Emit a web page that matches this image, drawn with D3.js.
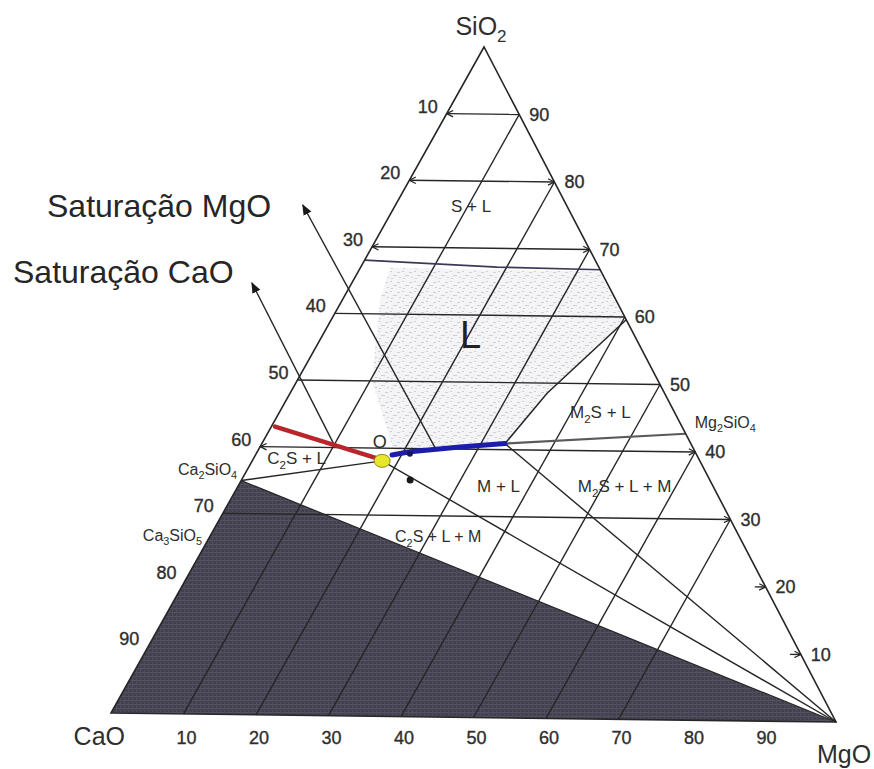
<!DOCTYPE html>
<html>
<head>
<meta charset="utf-8">
<script src="https://cdn.jsdelivr.net/npm/d3@7"></script>
<style>
  html, body { margin: 0; padding: 0; background: #fff; }
  svg { display: block; font-family: "Liberation Sans", Arial, Helvetica, sans-serif; }
</style>
</head>
<body>
<svg id="chart" width="874" height="769"></svg>
<script>
// ---- Data: every composition is wt% written as [CaO, MgO, SiO2] ----
const tickValues   = [10, 20, 30, 40, 50, 60, 70, 80, 90];
const silicaGrid   = [90, 80, 70, 60, 50, 40, 30];   // iso-SiO2 lines across the field
const magnesiaGrid = [10, 20, 30, 40, 50, 60, 70];   // iso-MgO lines across the field
const silicaArrowLeft  = [90, 80, 70, 40];
const silicaArrowRight = [80, 70, 40, 30];
const silicaTickOnly   = [20, 10];

const cornerCaO  = [100, 0, 0];
const cornerMgO  = [0, 100, 0];
const cornerSiO2 = [0, 0, 100];

const ca2sio4 = [65.1, 0, 34.9];
const ca3sio5 = [73.7, 0, 26.3];
const mg2sio4 = [0, 57.3, 42.7];
const pointO  = [44.1, 17.8, 38.1];
const slagDot = [41.6, 23.1, 35.3];
const mgoEnd  = [25.8, 33.3, 40.9];   // L / M2S+L / M+L junction

const silicaLiquidus  = [[32.0, 0, 68.0], [14.1, 18.7, 67.2], [0, 33.0, 67.0]];
const olivineLiquidus = [[25.8, 33.3, 40.9], [16.3, 35.2, 48.5], [0, 40.4, 59.6]];
const caoSaturation   = [[56.5, 0.5, 43.0], [44.7, 16.8, 38.5]];
const mgoSaturation   = [[42.3, 18.7, 39.0], [39.6, 20.9, 39.5], [32.3, 27.4, 40.3], [25.8, 33.3, 40.9]];
const satMgOArrow     = [[35.8, 24.3, 39.9], [36.6, -12.7, 76.1]];
const satCaOArrow     = [[49.6, 9.9, 40.5], [49.3, -13.7, 64.4]];
const liquidField     = [[29.0, 4.1, 66.9], [0.2, 33.1, 66.7], [0.3, 40.4, 59.3], [16.3, 35.2, 48.5],
                         [25.8, 33.3, 40.9], [41.9, 19.1, 39.0], [39.7, 10.2, 50.1], [32.8, 5.2, 62.1]];

// ---- Layout ----
const corner = { CaO: [111, 713], MgO: [836, 722], SiO2: [484, 47] };
const frac = d3.scaleLinear().domain([0, 100]).range([0, 1]);

function proj(d) {
  const t = d[0] + d[1] + d[2];
  const c = frac(d[0] * 100 / t), m = frac(d[1] * 100 / t), s = frac(d[2] * 100 / t);
  return [c * corner.CaO[0] + m * corner.MgO[0] + s * corner.SiO2[0],
          c * corner.CaO[1] + m * corner.MgO[1] + s * corner.SiO2[1]];
}
const line = d3.line().x(d => proj(d)[0]).y(d => proj(d)[1]);
const ink = "#262626";

const svg = d3.select("#chart");
const defs = svg.append("defs");
defs.append("marker").attr("id", "chev").attr("viewBox", "0 0 10 10")
  .attr("refX", 9).attr("refY", 5).attr("markerWidth", 8).attr("markerHeight", 8)
  .attr("markerUnits", "userSpaceOnUse").attr("orient", "auto-start-reverse")
  .append("path").attr("d", "M1,1 L9,5 L1,9").attr("fill", "none")
  .attr("stroke", ink).attr("stroke-width", 1.5);
defs.append("marker").attr("id", "tri").attr("viewBox", "0 0 10 10")
  .attr("refX", 9).attr("refY", 5).attr("markerWidth", 11).attr("markerHeight", 11)
  .attr("markerUnits", "userSpaceOnUse").attr("orient", "auto")
  .append("path").attr("d", "M0,1 L10,5 L0,9 Z").attr("fill", "#1a1a1a");

// speckled tone for the liquid field
const speck = defs.append("pattern").attr("id", "speck").attr("patternUnits", "userSpaceOnUse")
  .attr("width", 12).attr("height", 10);
speck.append("rect").attr("width", 12).attr("height", 10).attr("fill", "#f4f4f6");
[[1, 2, 3], [6, 1, 2], [9, 5, 3], [3, 7, 2], [7, 8, 2], [0, 5, 1]].forEach(([x, y, w]) =>
  speck.append("rect").attr("x", x).attr("y", y).attr("width", w).attr("height", 1).attr("fill", "#cfcfd8"));

// dark C2S + C3S + M field with a fine screen texture
const screen = defs.append("pattern").attr("id", "screen").attr("patternUnits", "userSpaceOnUse")
  .attr("width", 4).attr("height", 4);
screen.append("rect").attr("width", 4).attr("height", 4).attr("fill", "#43414f");
screen.append("rect").attr("width", 4).attr("height", 1).attr("fill", "#555363");
screen.append("rect").attr("width", 1).attr("height", 4).attr("fill", "#4f4d5c");

svg.append("path").attr("d", line([ca2sio4, cornerMgO, cornerCaO]) + "Z")
  .attr("fill", "url(#screen)").attr("stroke", "none");

svg.append("path").attr("d", line(liquidField) + "Z")
  .attr("fill", "url(#speck)").attr("stroke", "none");

const g = svg.append("g").attr("fill", "none").attr("stroke", ink).attr("stroke-width", 1.4);

// iso-SiO2 lines
silicaGrid.forEach(v => {
  const rest = 100 - v;
  g.append("path").attr("d", line([[rest, 0, v], [0, rest, v]]))
    .attr("marker-start", silicaArrowLeft.includes(v) ? "url(#chev)" : null)
    .attr("marker-end", silicaArrowRight.includes(v) ? "url(#chev)" : null);
});
// short tick arrows on the MgO–SiO2 side
silicaTickOnly.forEach(v => {
  const rest = 100 - v;
  g.append("path").attr("d", line([[1.5, rest - 1.5, v], [0, rest, v]]))
    .attr("marker-end", "url(#chev)");
});
// iso-MgO lines
magnesiaGrid.forEach(v => {
  g.append("path").attr("d", line([[100 - v, v, 0], [0, v, 100 - v]]));
});

// phase boundaries and tie lines
g.append("path").attr("d", line(silicaLiquidus)).attr("stroke-width", 1.7).attr("stroke", "#3a3a58");
g.append("path").attr("d", line(olivineLiquidus)).attr("stroke-width", 1.5);
g.append("path").attr("d", line([mgoEnd, mg2sio4])).attr("stroke-width", 2.2).attr("stroke", "#5a5a5a");
g.append("path").attr("d", line([mgoEnd, cornerMgO]));
g.append("path").attr("d", line([pointO, cornerMgO]));
g.append("path").attr("d", line([ca2sio4, pointO]));
g.append("path").attr("d", line([ca2sio4, cornerMgO])).attr("stroke-width", 1.2);

// saturation direction arrows
g.append("path").attr("d", line(satMgOArrow)).attr("marker-end", "url(#tri)");
g.append("path").attr("d", line(satCaOArrow)).attr("marker-end", "url(#tri)");

// triangle outline
g.append("path").attr("d", line([cornerCaO, cornerMgO, cornerSiO2]) + "Z").attr("stroke-width", 1.6);

// saturation curves
svg.append("path").attr("d", line(caoSaturation)).attr("fill", "none")
  .attr("stroke", "#b8262b").attr("stroke-width", 4.5).attr("stroke-linecap", "round");
svg.append("path").attr("d", line(mgoSaturation)).attr("fill", "none")
  .attr("stroke", "#1d1ea8").attr("stroke-width", 5).attr("stroke-linecap", "round");

// point O and slag sample
const pO = proj(pointO);
svg.append("ellipse").attr("cx", pO[0]).attr("cy", pO[1]).attr("rx", 8).attr("ry", 6.5)
  .attr("fill", "#e7e62a").attr("stroke", "#8d8a22").attr("stroke-width", 1);
const pS = proj(slagDot);
svg.append("circle").attr("cx", pS[0]).attr("cy", pS[1]).attr("r", 3.5).attr("fill", "#1a1a1a");
const pB = proj(mgoSaturation[1]);
svg.append("circle").attr("cx", pB[0]).attr("cy", pB[1] + 2).attr("r", 3).attr("fill", "#161660");

// ---- Text ----
const txt = svg.append("g").attr("fill", "#2e2e2e");
function label(x, y, parts, size, anchor) {
  const t = txt.append("text").attr("x", x).attr("y", y).attr("font-size", size)
    .attr("text-anchor", anchor || "start");
  const shift = size * 0.28;
  let lowered = false;
  parts.forEach(part => {
    const sub = typeof part !== "string";
    const ts = t.append("tspan").text(sub ? part.sub : part);
    if (sub) { ts.attr("font-size", size * 0.68).attr("dy", lowered ? 0 : shift); lowered = true; }
    else if (lowered) { ts.attr("dy", -shift); lowered = false; }
  });
  return t;
}
function numeral(x, y, v, anchor) {
  return label(x, y, [String(v)], 18, anchor).attr("stroke", "#2e2e2e").attr("stroke-width", 0.35);
}

// corner labels
let p = proj(cornerSiO2);  label(p[0] - 3, p[1] - 12, ["SiO", {sub: "2"}], 25, "middle");
p = proj(cornerCaO);       label(p[0] + 14, p[1] + 32, ["CaO"], 25, "end");
p = proj(cornerMgO);       label(p[0] - 19, p[1] + 41, ["MgO"], 25, "start");

// CaO ticks (CaO–SiO2 side), SiO2 ticks (MgO–SiO2 side), MgO ticks (base)
tickValues.forEach(v => {
  let q = proj([v, 0, 100 - v]);
  numeral(q[0] - 9, q[1] - 1, v, "end");
  q = proj([0, 100 - v, v]);
  numeral(q[0] + 10, q[1] + 6, v, "start");
  q = proj([100 - v, v, 0]);
  numeral(q[0] + 3, 744, v, "middle");
});

// compounds
p = proj(ca2sio4); label(p[0] - 4, p[1] - 6, ["Ca", {sub: "2"}, "SiO", {sub: "4"}], 16, "end");
p = proj(ca3sio5); label(p[0] - 7, p[1] + 3, ["Ca", {sub: "3"}, "SiO", {sub: "5"}], 16, "end");
p = proj(mg2sio4); label(p[0] + 9, p[1] - 6, ["Mg", {sub: "2"}, "SiO", {sub: "4"}], 16, "start");

// phase fields
p = proj([13.75, 10.88, 75.37]); label(p[0], p[1], ["S + L"], 17, "middle");
p = proj([25.1, 19.8, 55.1]);    label(p[0], p[1], ["L"], 38, "start").attr("fill", "#222");
p = proj([14.9, 40.2, 44.8]);    label(p[0], p[1], ["M", {sub: "2"}, "S + L"], 17, "start");
p = proj([33.2, 33.2, 33.6]);    label(p[0], p[1], ["M + L"], 17, "start");
p = proj([19.2, 47.0, 33.8]);    label(p[0], p[1], ["M", {sub: "2"}, "S + L + M"], 17, "start");
p = proj([60.3, 2.3, 37.4]);     label(p[0], p[1], ["C", {sub: "2"}, "S + L"], 17, "start");
p = proj([48.2, 25.8, 26.0]);    label(p[0], p[1], ["C", {sub: "2"}, "S + L + M"], 16, "start");
p = proj([43.5, 16.5, 40.0]);    label(p[0], p[1], ["O"], 18, "middle");

// saturation captions
label(47, 217, ["Saturação MgO"], 32, "start").attr("fill", "#262626");
label(13, 283, ["Saturação CaO"], 32, "start").attr("fill", "#262626");
</script>
</body>
</html>
